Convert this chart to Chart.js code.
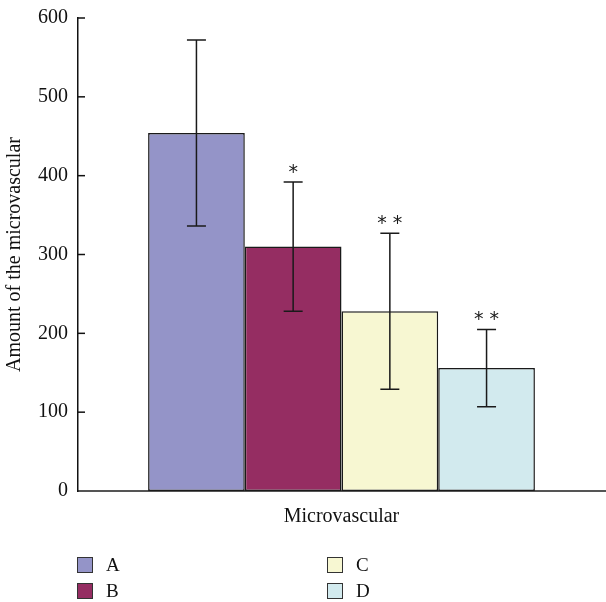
<!DOCTYPE html>
<html>
<head>
<meta charset="utf-8">
<script src="https://cdn.jsdelivr.net/npm/chart.js@4/dist/chart.umd.min.js"></script>
<style>
  html, body { margin: 0; padding: 0; background: #fff; }
  #wrap { position: relative; width: 606px; height: 602px; }
  #chartBox { position: absolute; left: 0; top: 0; width: 606px; height: 530px; }
  #legend { position: absolute; left: 0; top: 0; width: 606px; height: 602px; pointer-events: none;
            font-family: "Liberation Serif", "DejaVu Serif", serif; font-size: 19px; color: #111; }
  .item { position: absolute; height: 16px; line-height: 16px; }
  .swatch { position: absolute; left: 0; top: 0; width: 14px; height: 14px; border: 1.5px solid #333; }
  .item span { position: absolute; left: 29px; top: 0; }
</style>
</head>
<body>
<div id="wrap">
  <div id="chartBox"><canvas id="chart"></canvas></div>
  <div id="legend"></div>
</div>
<script>
// data
const groups = ['A', 'B', 'C', 'D'];
const means = [454, 310, 228, 156];
const errors = [118, 82, 99, 49];
const marks = ['', '*', '* *', '* *'];
const colors = ['#9494c8', '#952d62', '#f7f7d2', '#d2eaee'];
const category = ['Microvascular'];

const serif = '"Liberation Serif", "DejaVu Serif", serif';

// error bars + significance stars, placed from the scales
const errorBars = {
    id: 'errorBars',
    afterDatasetsDraw(chart) {
        const ctx = chart.ctx;
        const y = chart.scales.y;
        ctx.save();
        ctx.strokeStyle = '#1a1a1a';
        ctx.lineWidth = 1.5;
        chart.data.datasets.forEach((ds, i) => {
            const bar = chart.getDatasetMeta(i).data[0];
            const top = y.getPixelForValue(means[i] + errors[i]);
            const bottom = y.getPixelForValue(means[i] - errors[i]);
            const x = bar.x;
            ctx.beginPath();
            ctx.moveTo(x, top); ctx.lineTo(x, bottom);
            ctx.moveTo(x - 9.5, top); ctx.lineTo(x + 9.5, top);
            ctx.moveTo(x - 9.5, bottom); ctx.lineTo(x + 9.5, bottom);
            ctx.stroke();
            if (marks[i]) {
                ctx.fillStyle = '#1a1a1a';
                ctx.font = '19px "DejaVu Sans", sans-serif';
                ctx.textAlign = 'center';
                ctx.textBaseline = 'middle';
                ctx.fillText(marks[i], x, top - 9);
            }
        });
        ctx.restore();
    }
};

// y ticks point inward
const innerTicks = {
    id: 'innerTicks',
    afterDraw(chart) {
        const ctx = chart.ctx;
        const y = chart.scales.y;
        ctx.save();
        ctx.strokeStyle = '#111';
        ctx.lineWidth = 1.5;
        y.ticks.forEach(t => {
            if (t.value === 0) return;
            const py = y.getPixelForValue(t.value);
            ctx.beginPath();
            ctx.moveTo(y.right, py);
            ctx.lineTo(y.right + 7, py);
            ctx.stroke();
        });
        ctx.restore();
    }
};

const chart = new Chart(document.getElementById('chart'), {
    type: 'bar',
    data: {
        labels: category,
        datasets: groups.map((g, i) => ({
            label: g,
            data: [means[i]],
            backgroundColor: colors[i],
            borderColor: '#1a1a1a',
            borderWidth: 1.5,
            borderSkipped: false,
            categoryPercentage: 0.734,
            barPercentage: 1
        }))
    },
    options: {
        responsive: true,
        maintainAspectRatio: false,
        animation: false,
        layout: { padding: { top: 18, right: 1, left: 0, bottom: 0 } },
        scales: {
            x: {
                grid: { display: false },
                border: { display: true, color: '#555', width: 2 },
                ticks: { color: '#111', font: { family: serif, size: 20 }, padding: 6 },
                afterFit: s => { s.height = 39; }
            },
            y: {
                min: 0,
                max: 600,
                grid: { display: false, drawTicks: false },
                border: { display: true, color: '#111', width: 1.5 },
                ticks: { stepSize: 100, color: '#111', font: { family: serif, size: 20, lineHeight: 1 }, padding: 10 },
                title: { display: true, text: 'Amount of the microvascular', color: '#111',
                         font: { family: serif, size: 20 }, padding: { top: 3, bottom: 0 } },
                afterFit: s => { s.width = 78; s.paddingTop = 0; }
            }
        },
        plugins: {
            legend: { display: false },
            tooltip: { enabled: false }
        }
    },
    plugins: [errorBars, innerTicks]
});

// legend: two columns, A/B left and C/D right
const legend = document.getElementById('legend');
const slots = [[77, 557], [77, 583], [327, 557], [327, 583]];
chart.data.datasets.forEach((ds, i) => {
    const el = document.createElement('div');
    el.className = 'item';
    el.style.left = slots[i][0] + 'px';
    el.style.top = slots[i][1] + 'px';
    el.innerHTML = `<div class="swatch" style="background:${ds.backgroundColor}"></div><span>${ds.label}</span>`;
    legend.appendChild(el);
});
</script>
</body>
</html>
